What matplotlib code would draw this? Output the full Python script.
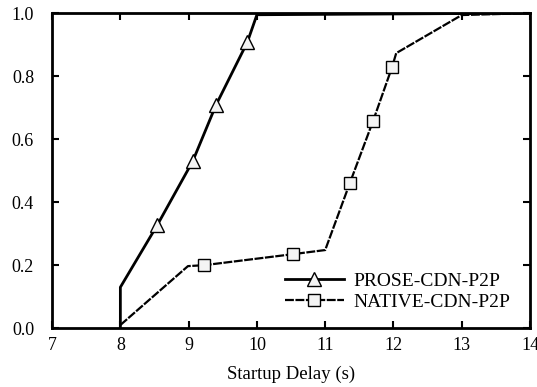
import matplotlib
matplotlib.use("Agg")
import matplotlib.pyplot as plt

# startup delay CDF
prose_x = [8.0, 8.0, 8.54, 9.06, 9.40, 9.86, 10.0, 14.0]
prose_y = [0.0, 0.13, 0.327, 0.53, 0.708, 0.908, 0.995, 1.0]
prose_marks = [2, 3, 4, 5]

native_x = [8.0, 8.99, 9.23, 10.53, 11.0, 11.36, 11.70, 11.98, 12.04, 13.0, 14.0]
native_y = [0.01, 0.197, 0.20, 0.235, 0.248, 0.46, 0.657, 0.829, 0.873, 0.994, 1.0]
native_marks = [2, 3, 5, 6, 7]

xticks = [7, 8, 9, 10, 11, 12, 13, 14]
yticks = [0.0, 0.2, 0.4, 0.6, 0.8, 1.0]

plt.rcParams['font.family'] = ['Liberation Serif', 'DejaVu Serif']
plt.rcParams['font.size'] = 13

fig = plt.figure(figsize=(5.37, 3.87), dpi=100)
ax = fig.add_axes([0.097, 0.152, 0.89, 0.814])

ax.plot(prose_x, prose_y, color='black', lw=2.0, marker='^', markevery=prose_marks,
        markersize=10, markerfacecolor='#f4f4f4', markeredgecolor='black', markeredgewidth=1.0,
        label='PROSE-CDN-P2P')
ax.plot(native_x, native_y, color='black', lw=1.6, linestyle=(0, (4, 0.7)), marker='s',
        markevery=native_marks, markersize=9, markerfacecolor='#f4f4f4',
        markeredgecolor='black', markeredgewidth=1.0, label='NATIVE-CDN-P2P')

ax.set_xlim(7, 14)
ax.set_ylim(0, 1.0)
ax.set_xticks(xticks)
ax.set_yticks(yticks)
ax.set_yticklabels(['%.1f' % v for v in yticks])
ax.tick_params(direction='in', top=True, right=True, length=5, width=1.5, labelsize=13)
ax.tick_params(axis='y', pad=13)
ax.tick_params(axis='x', pad=6)
for s in ax.spines.values():
    s.set_linewidth(2.0)

ax.set_xlabel('Startup Delay (s)', fontsize=13.5, labelpad=9)

ax.legend(loc='lower right', bbox_to_anchor=(0.995, 0.0), frameon=False, fontsize=14,
          handlelength=3.0, handletextpad=0.5, labelspacing=0.15)

fig.savefig('out.png', dpi=100)
